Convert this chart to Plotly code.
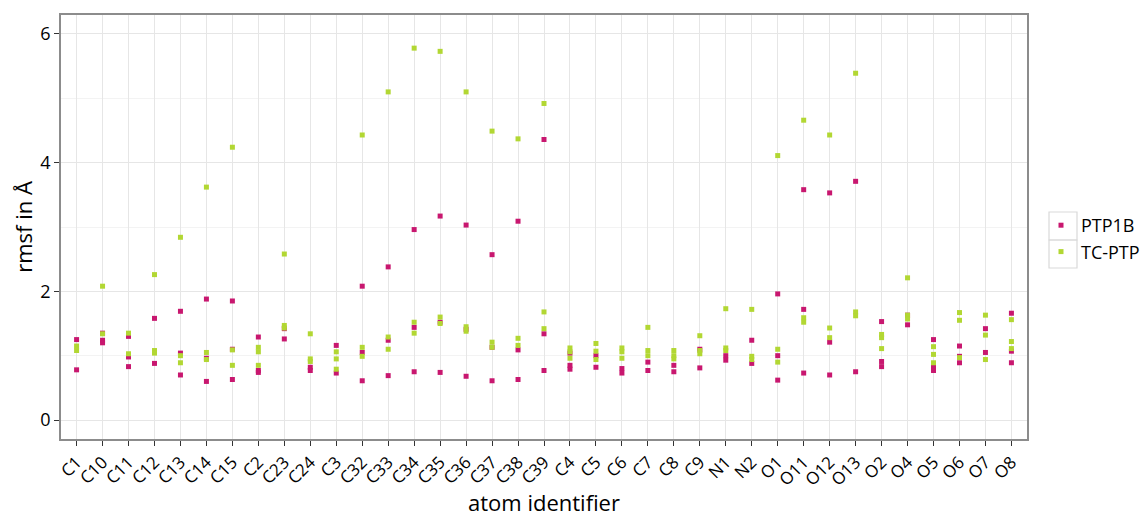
import plotly.graph_objects as go

categories = ["C1", "C10", "C11", "C12", "C13", "C14", "C15", "C2", "C23", "C24",
              "C3", "C32", "C33", "C34", "C35", "C36", "C37", "C38", "C39", "C4",
              "C5", "C6", "C7", "C8", "C9", "N1", "N2", "O1", "O11", "O12",
              "O13", "O2", "O4", "O5", "O6", "O7", "O8"]

ptp1b_values = [
    [1.25, 0.78], [1.35, 1.24, 1.20], [1.30, 0.98, 0.83], [1.58, 0.88],
    [1.69, 1.04, 0.70], [1.88, 0.96, 0.60], [1.85, 1.10, 0.63], [1.29, 0.77, 0.74],
    [1.42, 1.26], [0.82, 0.77], [1.16, 0.73], [2.08, 1.05, 0.61],
    [2.38, 1.24, 0.69], [2.96, 1.44, 0.75], [3.17, 1.52, 0.74], [3.03, 1.41, 0.68],
    [2.57, 1.13, 0.61], [3.09, 1.09, 0.63], [4.36, 1.34, 0.77], [1.04, 0.85, 0.79],
    [1.00, 0.82], [0.80, 0.73], [0.90, 0.77], [0.85, 0.75],
    [1.10, 0.81], [1.00, 0.93], [1.24, 0.88], [1.96, 1.00, 0.62],
    [3.58, 1.72, 0.73], [3.53, 1.21, 0.70], [3.71, 0.75], [1.53, 0.91, 0.83],
    [1.63, 1.48], [1.25, 0.82, 0.77], [1.15, 0.99, 0.89], [1.42, 1.05],
    [1.66, 1.07, 0.89],
]

tcptp_values = [
    [1.15, 1.08], [2.08, 1.34], [1.35, 1.03], [2.26, 1.08, 1.04],
    [2.84, 1.00, 0.89], [3.62, 1.05, 0.94], [4.24, 1.09, 0.85], [1.13, 1.06, 0.85],
    [2.58, 1.47, 1.43], [1.34, 0.95, 0.91], [1.06, 0.95, 0.79], [4.43, 1.13, 0.99],
    [5.10, 1.29, 1.10], [5.78, 1.52, 1.35], [5.73, 1.60, 1.50], [5.10, 1.45, 1.38],
    [4.49, 1.21, 1.13], [4.37, 1.27, 1.16], [4.92, 1.68, 1.42], [1.12, 1.06, 0.96],
    [1.19, 1.07, 0.94], [1.12, 1.06, 0.96], [1.44, 1.08, 1.00], [1.08, 1.00, 0.95],
    [1.31, 1.08, 1.03], [1.73, 1.12, 1.08], [1.72, 0.99, 0.94], [4.11, 1.10, 0.90],
    [4.66, 1.59, 1.52], [4.43, 1.43, 1.28], [5.39, 1.68, 1.62], [1.33, 1.28, 1.11],
    [2.21, 1.63, 1.57], [1.14, 1.02, 0.89], [1.67, 1.55, 0.97], [1.63, 1.32, 0.94],
    [1.56, 1.22, 1.11],
]

y_ticks = [0, 2, 4, 6]

series_names = ["PTP1B", "TC-PTP"]
series_colors = ["#C8176F", "#B2D733"]
x_title = "atom identifier"
y_title = "rmsf in Å"


def flatten(values):
    xs, ys = [], []
    for cat, vals in zip(categories, values):
        for v in vals:
            xs.append(cat)
            ys.append(v)
    return xs, ys


FONT = "Open Sans"
fig = go.Figure()
for name, vals, col in zip(series_names, [ptp1b_values, tcptp_values], series_colors):
    xs, ys = flatten(vals)
    fig.add_trace(go.Scatter(
        x=xs, y=ys, mode="markers", name=name,
        marker=dict(symbol="square", size=5, color=col, line=dict(width=0)),
    ))

W, H = 1144, 516
L, R, T, B = 61, 117, 15, 77
pw, ph = W - L - R, H - T - B


def px_x(x):
    return (x - L) / pw


def px_y(y):
    return (H - B - y) / ph


shapes = []
for (y0, y1) in [(212, 240), (240, 268)]:
    shapes.append(dict(type="rect", xref="paper", yref="paper",
                       x0=px_x(1049), x1=px_x(1077), y0=px_y(y1), y1=px_y(y0),
                       line=dict(color="#D9D9D9", width=1.2), fillcolor="rgba(0,0,0,0)"))

fig.update_layout(
    width=W, height=H,
    margin=dict(l=L, r=R, t=T, b=B, autoexpand=False),
    paper_bgcolor="white", plot_bgcolor="white",
    font=dict(family=FONT, color="black"),
    showlegend=True,
    legend=dict(x=px_x(1041), xanchor="left", y=px_y(207), yanchor="top",
                font=dict(size=18, family=FONT, color="black"),
                bgcolor="rgba(0,0,0,0)", itemsizing="trace",
                tracegroupgap=0),
    shapes=shapes,
    annotations=[dict(text=x_title, xref="paper", yref="paper",
                      x=px_x(544), y=px_y(502), xanchor="center", yanchor="middle",
                      showarrow=False, font=dict(size=22, family=FONT, color="black"))],
    xaxis=dict(
        type="category", categoryorder="array", categoryarray=categories,
        range=[-0.6, len(categories) - 0.4],
        showgrid=True, gridcolor="#E6E6E6", gridwidth=1,
        showline=True, mirror=True, linecolor="#8C8C8C", linewidth=1.5,
        ticks="outside", ticklen=5, tickcolor="#333333", tickwidth=1.2,
        tickangle=-45, tickfont=dict(size=17, family=FONT, color="black"),
        zeroline=False, automargin=False,
    ),
    yaxis=dict(
        range=[-0.295, 6.295],
        tickvals=y_ticks, ticktext=[str(v) for v in y_ticks],
        showgrid=True, gridcolor="#E6E6E6", gridwidth=1,
        minor=dict(dtick=1, tick0=0, showgrid=True, gridcolor="#F3F3F3", gridwidth=1),
        showline=True, mirror=True, linecolor="#8C8C8C", linewidth=1.5,
        ticks="outside", ticklen=5, tickcolor="#333333", tickwidth=1.2,
        tickfont=dict(size=18, family=FONT, color="black"),
        title=dict(text=y_title, font=dict(size=22, family=FONT, color="black"), standoff=2),
        zeroline=False, automargin=False,
    ),
)

fig.write_html("out.html", config={"displayModeBar": False},
               post_script="document.body.style.margin='0';document.body.style.overflow='hidden';")
